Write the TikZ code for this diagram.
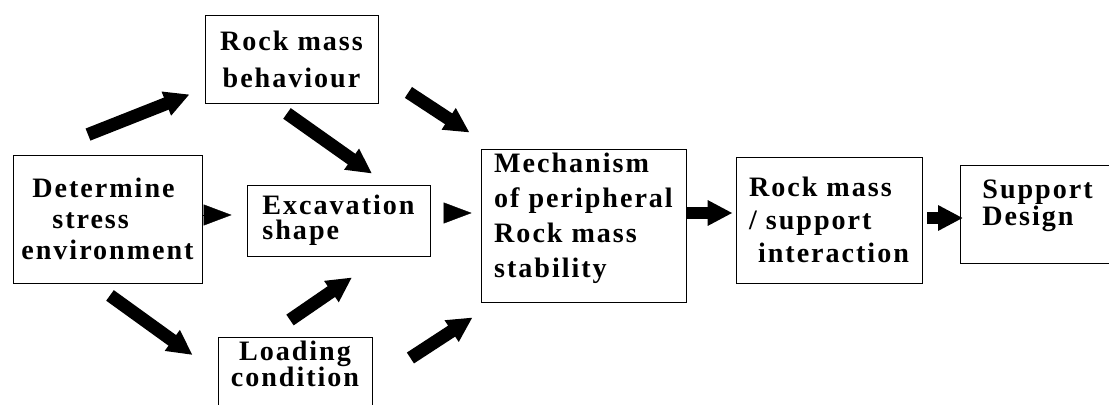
\documentclass[tikz,border=0pt]{standalone}
\usepackage{fontspec}
\setmainfont{Liberation Serif}[LetterSpace=7]
\usetikzlibrary{arrows.meta}
\newcommand{\boxfont}[1]{\bfseries\fontsize{16pt}{#1pt}\selectfont}
\tikzstyle{rockbox} = [draw, line width=0.5pt, inner sep=2pt]
\tikzstyle{bigarrow} = [line width=0.26cm, -{Triangle[length=0.5cm,width=0.48cm]}]
\tikzstyle{headonly} = [line width=0.2pt, -{Triangle[length=0.56cm,width=0.42cm]}]

\begin{document}
\begin{tikzpicture}[x=0.02cm, y=-0.02cm]
        \useasboundingbox (0,0) rectangle (1109,405);
        \clip (0,0) rectangle (1109,405);
        % boxes
        \node[rockbox, align=center, minimum width=3.46cm, minimum height=1.76cm, font=\boxfont{21}] (behav) at (291.5,59) {Rock mass\\behaviour};
        \node[rockbox, align=left, minimum width=3.78cm, minimum height=2.56cm, font=\boxfont{17.5}] (stress) at (107.5,219) {\hspace*{0.22cm}Determine\\\hspace*{0.62cm}stress\\environment};
        \node[rockbox, align=left, minimum width=3.66cm, minimum height=1.42cm, font=\boxfont{14}] (shape) at (338.5,220.5) {Excavation\\shape};
        \node[rockbox, align=center, anchor=north, minimum width=3.08cm, font=\boxfont{15}] (load) at (295,337) {Loading\\condition\\\mbox{}};
        \node[rockbox, align=left, minimum width=4.1cm, minimum height=3.06cm, font=\boxfont{20}] (mech) at (583.5,225.5) {Mechanism\\of peripheral\\Rock mass\\stability\\[-8pt]\mbox{}};
        \node[rockbox, align=left, minimum width=3.72cm, minimum height=2.52cm, font=\boxfont{19}] (inter) at (829,220) {Rock mass\\/ support\\\ interaction};
        \node[rockbox, align=left, anchor=west, text width=5cm, inner xsep=0.44cm, minimum height=1.96cm, font=\boxfont{15}] (design) at (960,214) {Support\\Design\\[-2pt]\mbox{}};
        % arrows
        \draw[bigarrow] ([shift={(-19.5,-20)}]stress.north) -- ([shift={(-15,-9)}]behav.south west);
        \draw[bigarrow] ([shift={(-4.5,10)}]behav.south) -- ([shift={(33.5,-11)}]shape.north);
        \draw[bigarrow] ([shift={(30,-11)}]behav.south east) -- ([shift={(-11,-16)}]mech.north west);
        \draw[headonly] ([shift={(1,-4)}]stress.east) -- ([shift={(-15,-5.5)}]shape.west);
        \draw[headonly] ([shift={(17,-7.5)}]shape.east) -- ([shift={(-9,-12.5)}]mech.west);
        \draw[bigarrow] ([shift={(2.5,12)}]stress.south) -- ([shift={(-25,18)}]load.north west);
        \draw[bigarrow] ([shift={(-5,-17)}]load.north) -- ([shift={(13.5,21)}]shape.south);
        \draw[bigarrow] ([shift={(38,21)}]load.north east) -- ([shift={(-8,15)}]mech.south west);
        \draw[bigarrow] ([shift={(0,-12.5)}]mech.east) -- ([shift={(-3,-7)}]inter.west);
        \draw[bigarrow] ([shift={(5,-2)}]inter.east) -- ([shift={(3,4)}]design.west);
    \end{tikzpicture}
\end{document}
